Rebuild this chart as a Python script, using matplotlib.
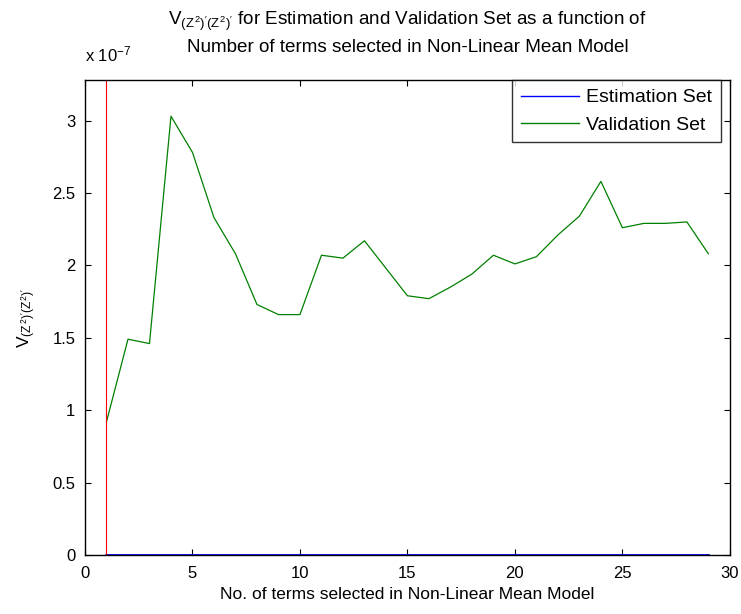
import matplotlib
matplotlib.use("Agg")
import matplotlib.pyplot as plt

# data (values in units of 1e-7)
terms = list(range(1, 30))
validation = [0.92, 1.49, 1.46, 3.03, 2.78, 2.33, 2.08, 1.73, 1.66, 1.66,
              2.07, 2.05, 2.17, 1.98, 1.79, 1.77, 1.85, 1.94, 2.07, 2.01,
              2.06, 2.21, 2.34, 2.58, 2.26, 2.29, 2.29, 2.30, 2.08]
estimation = [0.002] * 29
selected = 1
xticks = [0, 5, 10, 15, 20, 25, 30]
yticks = [0, 0.5, 1, 1.5, 2, 2.5, 3]

plt.rcParams['font.family'] = ['Liberation Sans', 'DejaVu Sans']
plt.rcParams['mathtext.fontset'] = 'custom'
plt.rcParams['mathtext.rm'] = 'Liberation Sans'
plt.rcParams['mathtext.it'] = 'Liberation Sans'
plt.rcParams['font.size'] = 12

fig = plt.figure(figsize=(7.41, 6.14), dpi=100)
ax = fig.add_axes([0.1147, 0.0961, 0.8703, 0.7736])

ax.plot(terms, estimation, color='blue', lw=2.0, label='Estimation Set')
ax.plot(terms, validation, color='green', lw=0.9, label='Validation Set')
ax.axvline(selected, color='red', lw=0.8)

ax.set_xlim(0, 30)
ax.set_ylim(0, 3.28)
ax.set_xticks(xticks)
ax.set_yticks(yticks)
ax.set_yticklabels(['0', '0.5', '1', '1.5', '2', '2.5', '3'])
ax.tick_params(direction='in', top=True, right=True, length=4, labelsize=12)
ax.tick_params(axis='x', pad=8)
ax.tick_params(axis='y', pad=7)
for s in ax.spines.values():
    s.set_linewidth(1.0)

ax.text(0.0, 1.032, r'x 10$^{-7}$', transform=ax.transAxes, fontsize=12,
        ha='left', va='bottom')

ax.set_title(r"V$_{(Z^2)'(Z^2)'}$ for Estimation and Validation Set as a function of"
             "\nNumber of terms selected in Non-Linear Mean Model",
             fontsize=13.6, pad=20, linespacing=1.45)
ax.set_xlabel('No. of terms selected in Non-Linear Mean Model', fontsize=12.5, labelpad=4)
ax.set_ylabel(r"V$_{(Z^2)'(Z^2)'}$", fontsize=12.5, labelpad=10)

leg = ax.legend(loc='upper right', bbox_to_anchor=(0.986, 1.0), fontsize=14,
                frameon=True, fancybox=False, edgecolor='black', handlelength=3.0,
                borderpad=0.45, labelspacing=0.5, handletextpad=0.36, borderaxespad=0)
leg.get_frame().set_linewidth(1.0)
for line in leg.get_lines():
    line.set_linewidth(1.0)

fig.savefig('out.png', dpi=100)
